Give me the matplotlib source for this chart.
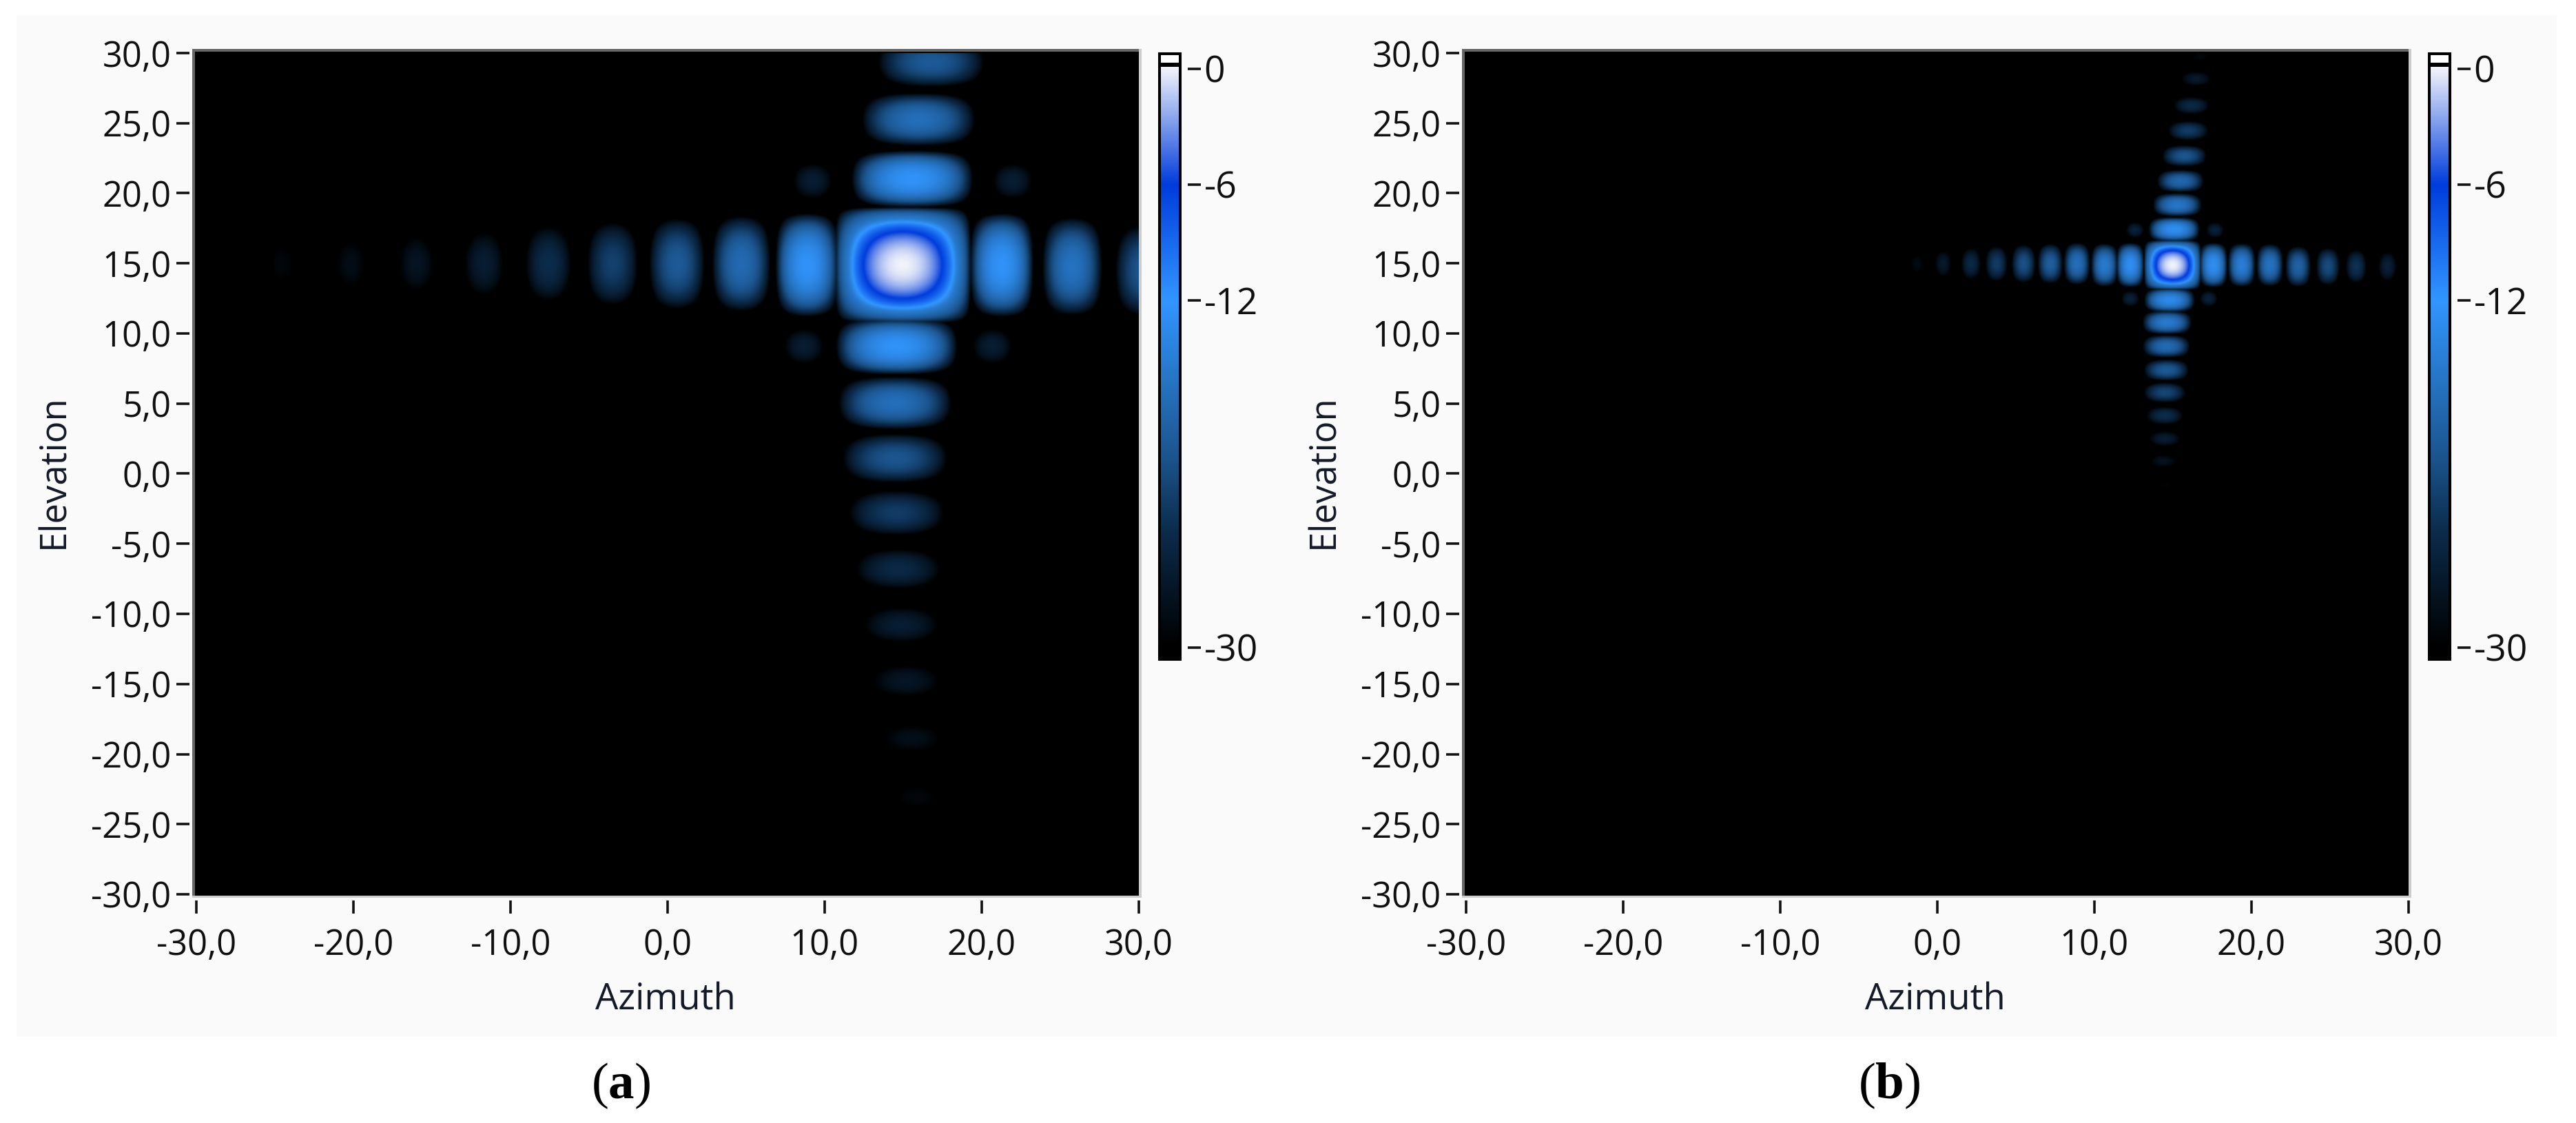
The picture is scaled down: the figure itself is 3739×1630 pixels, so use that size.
import matplotlib
matplotlib.use("Agg")
import matplotlib.pyplot as plt
import numpy as np
from matplotlib.colors import LinearSegmentedColormap
from matplotlib.patches import Rectangle

W, H = 3739, 1630
TEXT_FONT = ["Open Sans", "DejaVu Sans"]

plt.rcParams["mathtext.fontset"] = "custom"
plt.rcParams["mathtext.rm"] = "Liberation Serif"
plt.rcParams["mathtext.bf"] = "Liberation Serif:bold"

# colour scale
SCALE_DB = [-30, -24, -20, -12, -6, 0]
SCALE_COLORS = ["#000000", "#0c2c4c", "#1c5690", "#3296ff", "#003cdc", "#f0f2fa"]

AXIS_TICKS = [-30, -25, -20, -15, -10, -5, 0, 5, 10, 15, 20, 25, 30]
AXIS_TICK_LABELS = ["-30,0", "-25,0", "-20,0", "-15,0", "-10,0", "-5,0", "0,0",
                    "5,0", "10,0", "15,0", "20,0", "25,0", "30,0"]
AZ_TICKS = [-30, -20, -10, 0, 10, 20, 30]
AZ_TICK_LABELS = ["-30,0", "-20,0", "-10,0", "0,0", "10,0", "20,0", "30,0"]
BAR_TICKS = [0, -6, -12, -30]
BAR_TICK_LABELS = ["0", "-6", "-12", "-30"]

# panel (a): lobes (centre azimuth, centre elevation, peak dB)
A_MAIN = [15.0, 14.9]
A_BEAM_HALF = [4.15, 3.95]
A_SKIRT_HALF = [4.4, 4.2]
A_SPREAD_HALF = [4.3, 4.1]
A_SIDE_HALF = [2.25, 2.25]
A_ROW_AZ = [-24.6, -20.2, -16.0, -11.7, -7.6, -3.5, 0.6, 4.7, 8.9, 21.3, 25.8, 30.3]
A_ROW_EL = [15.0, 15.0, 15.0, 15.0, 15.0, 15.0, 15.0, 15.0, 14.9, 14.9, 14.8, 14.5]
A_ROW_DB = [-29.0, -28.2, -27.2, -26.0, -24.0, -22.0, -19.5, -17.5, -12.5, -12.5, -16.5, -20.0]
A_COL_AZ = [16.8, 16.0, 15.6, 14.6, 14.5, 14.5, 14.6, 14.7, 14.9, 15.2, 15.6, 15.9]
A_COL_EL = [29.4, 25.3, 21.05, 9.1, 5.05, 1.1, -2.8, -6.8, -10.8, -14.8, -18.9, -23.1]
A_COL_DB = [-19.5, -17.0, -12.5, -12.5, -17.0, -20.0, -22.5, -24.5, -26.0, -27.0, -28.0, -29.0]
A_CORNER_AZ = [9.25, 22.0, 8.7, 20.7]
A_CORNER_EL = [20.9, 20.9, 9.1, 9.1]
A_CORNER_DB = [-26.0, -26.0, -26.0, -26.0]

# panel (b)
B_MAIN = [15.0, 14.9]
B_BEAM_HALF = [1.74, 1.72]
B_SKIRT_HALF = [1.85, 1.8]
B_SPREAD_HALF = [1.82, 1.78]
B_SIDE_HALF = [1.0, 0.97]
B_ROW_AZ = [-1.3, 0.37, 2.15, 3.77, 5.5, 7.2, 8.9, 10.66, 12.3,
            17.6, 19.4, 21.2, 23.0, 24.9, 26.7, 28.7]
B_ROW_EL = [15.0, 15.0, 15.0, 15.0, 15.0, 15.0, 15.0, 14.9, 14.9,
            14.9, 14.9, 14.9, 14.8, 14.8, 14.8, 14.8]
B_ROW_DB = [-28.5, -26.5, -24.5, -22.5, -20.5, -19.0, -17.0, -15.5, -13.0,
            -13.0, -15.0, -16.5, -18.5, -21.0, -23.5, -25.5]
B_COL_AZ = [16.8, 16.5, 16.2, 16.0, 15.75, 15.5, 15.3, 15.1,
            14.8, 14.65, 14.6, 14.6, 14.5, 14.5, 14.5, 14.4, 14.5]
B_COL_EL = [29.8, 28.2, 26.3, 24.5, 22.7, 20.9, 19.2, 17.45,
            12.4, 10.8, 9.1, 7.4, 5.8, 4.15, 2.5, 0.9, -0.8]
B_COL_DB = [-29.0, -26.5, -24.5, -22.5, -20.0, -18.0, -16.0, -13.0,
            -13.5, -15.5, -17.5, -19.5, -21.5, -24.0, -26.0, -27.5, -29.5]
B_CORNER_AZ = [12.6, 17.7, 12.3, 17.3]
B_CORNER_EL = [17.4, 17.4, 12.5, 12.5]
B_CORNER_DB = [-25.5, -25.5, -25.5, -25.5]

SKIRT_DB = -9.0
MAIN_SHARPNESS = 26.0
SIDE_SHARPNESS = 22.0
SKIRT_SHARPNESS = 13.0


def axes_px(fig, x0, y0, x1, y1, **kwargs):
    return fig.add_axes([x0 / W, 1 - y1 / H, (x1 - x0) / W, (y1 - y0) / H], **kwargs)


def rect_px(fig, x0, y0, x1, y1, color, zorder=2):
    fig.add_artist(Rectangle((x0 / W, 1 - y1 / H), (x1 - x0) / W, (y1 - y0) / H,
                             transform=fig.transFigure, facecolor=color, edgecolor="none",
                             zorder=zorder))


def lobe_db(az, el, az0, el0, half_az, half_el, peak, sharpness=SIDE_SHARPNESS):
    # one rounded lobe, falling to a null at its half widths
    u = np.clip(np.abs(az - az0) / half_az, 0, 0.9999)
    v = np.clip(np.abs(el - el0) / half_el, 0, 0.9999)
    return peak + sharpness * (np.log10(np.cos(u * np.pi / 2)) + np.log10(np.cos(v * np.pi / 2)))


def build_panel(main, beam, skirt, spread, side, row_az, row_el, row_db, col_az, col_el, col_db,
                corner_az, corner_el, corner_db):
    az, el = np.meshgrid(np.linspace(-30, 30, 700), np.linspace(-30, 30, 700))
    z = lobe_db(az, el, main[0], main[1], beam[0], beam[1], 0.0, MAIN_SHARPNESS)
    z = np.maximum(z, lobe_db(az, el, main[0], main[1], skirt[0], skirt[1], SKIRT_DB, SKIRT_SHARPNESS))
    for a, e, d in zip(row_az, row_el, row_db):
        z = np.maximum(z, lobe_db(az, el, a, e, side[0], spread[1], d))
    for a, e, d in zip(col_az, col_el, col_db):
        z = np.maximum(z, lobe_db(az, el, a, e, spread[0], side[1], d))
    for a, e, d in zip(corner_az, corner_el, corner_db):
        z = np.maximum(z, lobe_db(az, el, a, e, side[0], side[1], d))
    return z


def draw_panel(fig, dx, z, cmap, letter, letter_x):
    # image area
    ax = axes_px(fig, 283 + dx, 75, 1653 + dx, 1300)
    ax.set_facecolor("black")
    ax.imshow(z, origin="lower", extent=[-30, 30, -30, 30], cmap=cmap, vmin=-30, vmax=0,
              aspect="auto", interpolation="bilinear")
    ax.set_xlim(-30 - 2 / 22.8, 30)
    ax.set_ylim(-30 - 2 / 20.35, 30 + 2 / 20.35)
    for side in ax.spines.values():
        side.set_visible(False)
    ax.spines["left"].set_position(("outward", 8 * 0.72))
    ax.spines["bottom"].set_position(("outward", 7 * 0.72))
    ax.set_xticks(AZ_TICKS, AZ_TICK_LABELS, family=TEXT_FONT, fontsize=36.5, color="#101010")
    ax.set_yticks(AXIS_TICKS, AXIS_TICK_LABELS, family=TEXT_FONT, fontsize=36.5, color="#101010")
    ax.tick_params(length=13.5, width=2.6, color="#111111")
    ax.tick_params(axis="y", pad=5.5)
    ax.tick_params(axis="x", pad=15)

    # sunken frame round the image
    rect_px(fig, 279 + dx, 71, 1657 + dx, 75, "#666666")
    rect_px(fig, 279 + dx, 71, 283 + dx, 1300, "#666666")
    rect_px(fig, 1653 + dx, 71, 1657 + dx, 1303, "#cccccc")
    rect_px(fig, 279 + dx, 1300, 1657 + dx, 1303, "#cccccc")

    fig.text((966 + dx) / W, 1 - 1452 / H, "Azimuth", family=TEXT_FONT, fontsize=38,
             ha="center", va="center", color="#151a28")
    fig.text((79 + dx) / W, 1 - 684 / H, "Elevation", family=TEXT_FONT, fontsize=38,
             rotation=90, ha="center", va="center", color="#151a28")

    # colour bar
    bar = axes_px(fig, 1683 + dx, 78, 1713 + dx, 957)
    bar.set_facecolor("black")
    top_db = (99.5 - 78) / 28
    low_db = (99.5 - 957) / 28
    ramp = np.linspace(low_db, 0.07, 600)[:, None]
    bar.imshow(ramp, origin="lower", extent=[0, 1, low_db, 0.07], cmap=cmap, vmin=-30, vmax=0,
               aspect="auto", interpolation="bilinear")
    bar.axhspan(0.29, top_db, color="white", linewidth=0)
    bar.set_xlim(0, 1)
    bar.set_ylim(low_db, top_db)
    bar.set_xticks([])
    bar.set_yticks([])
    for side in bar.spines.values():
        side.set_color("black")
        side.set_linewidth(2.9)

    scale = bar.twinx()
    scale.set_ylim(low_db, top_db)
    for side in scale.spines.values():
        side.set_visible(False)
    scale.spines["right"].set_position(("outward", 11 * 0.72))
    scale.set_yticks(BAR_TICKS, BAR_TICK_LABELS, family=TEXT_FONT, fontsize=38.5, color="#101010")
    scale.tick_params(length=14, width=2.6, color="#111111", pad=3)

    fig.text(letter_x / W, 1 - 1576 / H, "(" + rf"$\mathbf{{{letter}}}$" + ")",
             family="Liberation Serif", fontsize=54, ha="center", va="center", color="black")


def main():
    fig = plt.figure(figsize=(W / 100, H / 100), dpi=100, facecolor="white")
    rect_px(fig, 24, 22, 3711, 1505, "#fafafa", zorder=-5)

    stops = [(d - SCALE_DB[0]) / (SCALE_DB[-1] - SCALE_DB[0]) for d in SCALE_DB]
    cmap = LinearSegmentedColormap.from_list("beam", list(zip(stops, SCALE_COLORS)), N=512)

    z_a = build_panel(A_MAIN, A_BEAM_HALF, A_SKIRT_HALF, A_SPREAD_HALF, A_SIDE_HALF,
                      A_ROW_AZ, A_ROW_EL, A_ROW_DB, A_COL_AZ, A_COL_EL, A_COL_DB,
                      A_CORNER_AZ, A_CORNER_EL, A_CORNER_DB)
    z_b = build_panel(B_MAIN, B_BEAM_HALF, B_SKIRT_HALF, B_SPREAD_HALF, B_SIDE_HALF,
                      B_ROW_AZ, B_ROW_EL, B_ROW_DB, B_COL_AZ, B_COL_EL, B_COL_DB,
                      B_CORNER_AZ, B_CORNER_EL, B_CORNER_DB)

    draw_panel(fig, 0, z_a, cmap, "a", 901)
    draw_panel(fig, 1843, z_b, cmap, "b", 2742)

    fig.savefig("out.png", dpi=100, facecolor="white")
    plt.close(fig)


if __name__ == "__main__":
    main()
